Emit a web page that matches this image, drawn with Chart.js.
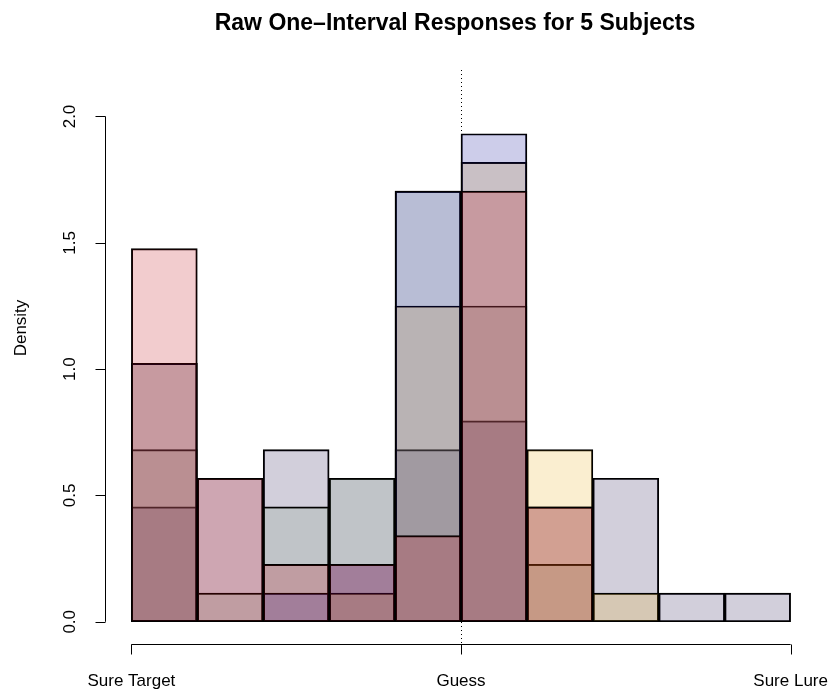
<!DOCTYPE html>
<html>
<head>
<meta charset="utf-8">
<script src="https://cdn.jsdelivr.net/npm/chart.js@4.4.1/dist/chart.umd.min.js"></script>
<style>
  html, body { margin: 0; padding: 0; background: #ffffff; }
  #wrap { width: 838px; height: 696px; position: relative; }
</style>
</head>
<body>
<div id="wrap"><canvas id="hist" width="838" height="696"></canvas></div>
<script>
// Response scale: -1 = sure target, 0 = guess, +1 = sure lure; ten bins of width 0.2
const binMids = [-0.9, -0.7, -0.5, -0.3, -0.1, 0.1, 0.3, 0.5, 0.7, 0.9];
const binWidth = 0.2;

// Response counts per bin for each subject (44 trials each)
const subject1 = [13, 5, 2, 2, 3, 15, 4, 0, 0, 0];
const subject2 = [9, 0, 1, 2, 15, 17, 0, 0, 0, 0];
const subject3 = [9, 0, 0, 1, 11, 16, 6, 1, 0, 0];
const subject4 = [6, 1, 4, 5, 15, 11, 2, 0, 0, 0];
const subject5 = [4, 5, 6, 5, 6, 7, 4, 5, 1, 1];

const subjectNames = ['Subject 1', 'Subject 2', 'Subject 3', 'Subject 4', 'Subject 5'];
const subjectColors = [
  'rgba(190, 0, 10, 0.2)',
  'rgba(5, 5, 150, 0.2)',
  'rgba(230, 170, 20, 0.2)',
  'rgba(120, 152, 119, 0.2)',
  'rgba(30, 15, 75, 0.2)'
];

const xTickValues = [-1, 0, 1];
const xTickLabels = ['Sure Target', 'Guess', 'Sure Lure'];
const yTickValues = [0, 0.5, 1.0, 1.5, 2.0];
const yTickLabels = ['0.0', '0.5', '1.0', '1.5', '2.0'];

const titleText = 'Raw One\u2013Interval Responses for 5 Subjects';
const yAxisTitle = 'Density';

// Histogram density: count / (n * bin width)
function toDensity(counts) {
  const n = counts.reduce((a, b) => a + b, 0);
  return counts.map((c, i) => ({ x: binMids[i], y: c / (n * binWidth) }));
}

const allCounts = [subject1, subject2, subject3, subject4, subject5];
const datasets = allCounts.map((counts, k) => ({
  label: subjectNames[k],
  data: toDensity(counts),
  backgroundColor: subjectColors[k],
  borderColor: '#000000',
  borderWidth: 1.3,
  borderSkipped: false,
  grouped: false,
  barPercentage: 1.0,
  categoryPercentage: 1.0
}));

const FONT = '"Liberation Sans", Arial, Helvetica, sans-serif';

// Base-graphics style axes, title and the dotted guess line
const axesPlugin = {
  id: 'baseAxes',
  afterDatasetsDraw(chart) {
    const { ctx, chartArea, scales } = chart;
    const xs = scales.x, ys = scales.y;
    ctx.save();

    // dotted vertical reference at the guess point
    const gx = Math.round(xs.getPixelForValue(0)) + 0.5;
    ctx.strokeStyle = '#000000';
    ctx.lineWidth = 1;
    ctx.setLineDash([1, 3]);
    ctx.beginPath();
    ctx.moveTo(gx, chartArea.top);
    ctx.lineTo(gx, chartArea.bottom);
    ctx.stroke();
    ctx.setLineDash([]);

    // y axis
    const ax = chartArea.left + 0.5;
    const y0 = ys.getPixelForValue(yTickValues[0]);
    const y1 = ys.getPixelForValue(yTickValues[yTickValues.length - 1]);
    ctx.beginPath();
    ctx.moveTo(ax, y0);
    ctx.lineTo(ax, y1);
    yTickValues.forEach(v => {
      const py = Math.round(ys.getPixelForValue(v)) + 0.5;
      ctx.moveTo(ax, py);
      ctx.lineTo(ax - 10, py);
    });
    ctx.stroke();

    ctx.fillStyle = '#000000';
    ctx.font = '17px ' + FONT;
    ctx.textAlign = 'center';
    ctx.textBaseline = 'middle';
    yTickValues.forEach((v, i) => {
      const py = ys.getPixelForValue(v);
      ctx.save();
      ctx.translate(70, py);
      ctx.rotate(-Math.PI / 2);
      ctx.fillText(yTickLabels[i], 0, 0);
      ctx.restore();
    });
    ctx.save();
    ctx.translate(21, 328);
    ctx.rotate(-Math.PI / 2);
    ctx.fillText(yAxisTitle, 0, 0);
    ctx.restore();

    // x axis
    const ay = chartArea.bottom + 1.5;
    const xa = xs.getPixelForValue(xTickValues[0]);
    const xb = xs.getPixelForValue(xTickValues[xTickValues.length - 1]);
    ctx.beginPath();
    ctx.moveTo(xa, ay);
    ctx.lineTo(xb, ay);
    xTickValues.forEach(v => {
      const px = Math.round(xs.getPixelForValue(v)) + 0.5;
      ctx.moveTo(px, ay);
      ctx.lineTo(px, ay + 10);
    });
    ctx.stroke();
    xTickValues.forEach((v, i) => {
      ctx.fillText(xTickLabels[i], xs.getPixelForValue(v), ay + 37);
    });

    // title
    ctx.font = 'bold 23px ' + FONT;
    ctx.fillText(titleText, 455, 24);
    ctx.restore();
  }
};

new Chart(document.getElementById('hist'), {
  type: 'bar',
  data: { datasets },
  options: {
    responsive: false,
    animation: false,
    devicePixelRatio: 1,
    layout: { padding: { left: 105, right: 21, top: 70, bottom: 53 } },
    plugins: { legend: { display: false }, tooltip: { enabled: false } },
    scales: {
      x: { type: 'linear', min: -1.08, max: 1.08, offset: false, display: false },
      y: { type: 'linear', min: -0.084, max: 2.184, display: false }
    }
  },
  plugins: [axesPlugin]
});
</script>
</body>
</html>
